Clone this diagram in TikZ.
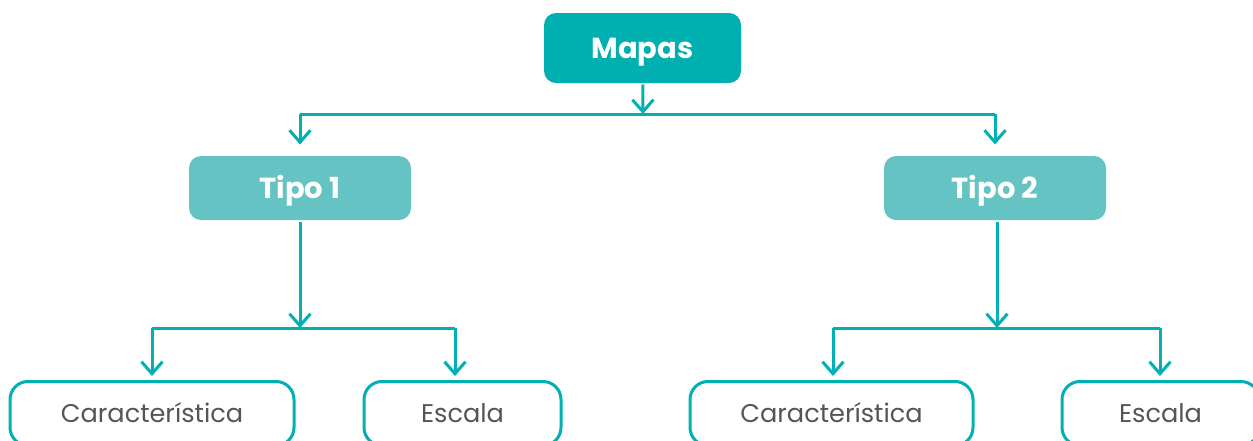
\documentclass[tikz,border=0pt]{standalone}
\usepackage{fontspec}
\setmainfont{Poppins}
\usetikzlibrary{arrows.meta}
\definecolor{tealdark}{HTML}{00AFAF}
\definecolor{teallight}{HTML}{66C3C3}
\definecolor{tealline}{HTML}{00B0B3}
\definecolor{leaftext}{HTML}{555555}
\begin{document}
\begin{tikzpicture}[
    x=0.5pt, y=-0.5pt,
    mainbox/.style={rectangle, rounded corners=6pt, fill=tealdark, text=white,
        minimum width=98.5pt, minimum height=35pt, inner ysep=0pt,
        text height=10.2pt, text depth=0pt, font=\bfseries\fontsize{14.5}{16}\selectfont},
    typebox/.style={rectangle, rounded corners=6pt, fill=teallight, text=white,
        minimum width=111pt, minimum height=32pt, inner ysep=0pt,
        text height=10.2pt, text depth=0pt, font=\bfseries\fontsize{14.5}{16}\selectfont},
    leafbox/.style={rectangle, rounded corners=9pt, draw=tealline, line width=1.5pt,
        text=leaftext, minimum height=32pt, inner ysep=0pt,
        text height=9pt, text depth=0pt, font=\fontsize{12.8}{14}\selectfont},
    arr/.style={-{Straight Barb[length=6pt, width=10.5pt, line width=1.5pt]}},
    line width=1.5pt, draw=tealline
]
    \useasboundingbox (0,0) rectangle (1253,440);
    \clip (0,0) rectangle (1253,440);

    % Cajas
    \node[mainbox] (mapas) at (642.5,48) {Mapas};
    \node[typebox] (tipo1) at (300,188) {Tipo 1};
    \node[typebox] (tipo2) at (995,188) {Tipo 2};
    \node[leafbox, minimum width=142pt] (car1) at (152,413.5) {Característica};
    \node[leafbox, minimum width=98.5pt] (esc1) at (462.5,413.5) {Escala};
    \node[leafbox, minimum width=141.5pt] (car2) at (831.5,413.5) {Característica};
    \node[leafbox, minimum width=98.5pt] (esc2) at (1160.5,413.5) {Escala};

    % Puntos de las barras horizontales
    \coordinate (bus0) at (643,114);
    \coordinate (bus1) at (300,328);
    \coordinate (bus2) at (997,328);
    \coordinate (a1) at (152,0);
    \coordinate (a2) at (455,0);
    \coordinate (a3) at (833,0);
    \coordinate (a4) at (1160,0);

    % Conectores
    \draw[arr] (mapas) -- (bus0);
    \draw (tipo1 |- bus0) -- (tipo2 |- bus0);
    \draw[arr, shorten >=5pt] (tipo1 |- bus0) -- (tipo1.north);
    \draw[arr, shorten >=5pt] (tipo2 |- bus0) -- (tipo2.north);

    \draw[arr] (tipo1) -- (bus1);
    \draw (a1 |- bus1) -- (a2 |- bus1);
    \draw[arr, shorten >=2pt] (a1 |- bus1) -- (a1 |- car1.north);
    \draw[arr, shorten >=2pt] (a2 |- bus1) -- (a2 |- esc1.north);

    \draw[arr] (tipo2.south -| bus2) -- (bus2);
    \draw (a3 |- bus2) -- (a4 |- bus2);
    \draw[arr, shorten >=2pt] (a3 |- bus2) -- (a3 |- car2.north);
    \draw[arr, shorten >=2pt] (a4 |- bus2) -- (a4 |- esc2.north);
\end{tikzpicture}
\end{document}
